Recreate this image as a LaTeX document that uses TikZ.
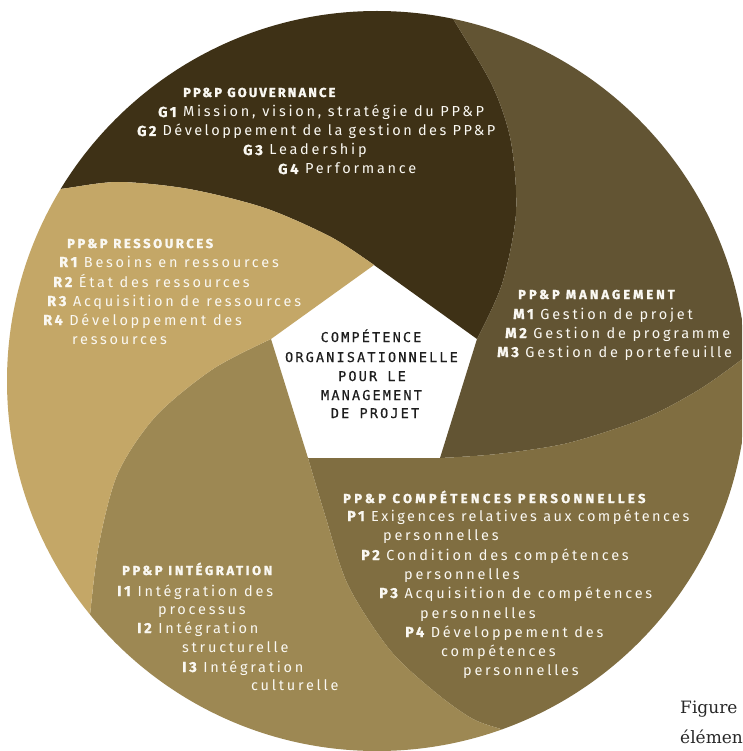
\documentclass[tikz,border=0pt]{standalone}
\usepackage{fontspec}
\setmainfont{Fira Sans}
\newfontfamily\wheelfont[LetterSpace=19,BoldFeatures={FakeBold=1.2}]{Fira Sans}
\newfontfamily\headfont[LetterSpace=20,BoldFeatures={FakeBold=1.4}]{Fira Sans}
\newfontfamily\corefont[LetterSpace=16,FakeBold=0.5]{DejaVu Sans Mono}
\newfontfamily\notefont{DejaVu Serif}
\newcommand\ikey[1]{{\bfseries #1}}

% segment colours of the wheel
\definecolor{gouv}{RGB}{62,49,22}
\definecolor{mgmt}{RGB}{98,84,51}
\definecolor{pers}{RGB}{128,110,65}
\definecolor{integ}{RGB}{157,136,83}
\definecolor{ress}{RGB}{196,167,103}
\definecolor{txtw}{RGB}{250,248,242}
\definecolor{coretxt}{RGB}{30,30,30}
\definecolor{notetxt}{RGB}{40,40,40}

\begin{document}
\begin{tikzpicture}[x=1pt,y=-1pt,
  item/.style={anchor=base west, inner sep=0pt, text=txtw,
    font=\wheelfont\fontsize{14.5}{16}\selectfont},
  head/.style={anchor=base west, inner sep=0pt, text=txtw,
    font=\headfont\bfseries\fontsize{13}{15}\selectfont},
  core/.style={anchor=base, inner sep=0pt, text=coretxt,
    font=\corefont\fontsize{13.5}{16}\selectfont},
  note/.style={anchor=base west, inner sep=0pt, text=notetxt,
    font=\notefont\fontsize{17}{20}\selectfont},
]
\useasboundingbox (0,0) rectangle (742,751);
\clip (0,0) rectangle (742,751);
\fill[white] (0,0) rectangle (742,751);

% corners of the central pentagon
\coordinate (pT)  at (374,265);
\coordinate (pR)  at (477,339);
\coordinate (pBR) at (440,458);
\coordinate (pBL) at (308,458);
\coordinate (pL)  at (271,339);

% the five swirl segments, cut by the outer circle
\begin{scope}
  \clip (377,381) circle [radius=370];
  % governance
  \fill[gouv] plot[smooth] coordinates {(pR) (502,284) (516,213) (511,142) (492,85) (452,17) (440,-5)}
    -- (440,-300) -- (-300,-300) -- (-300,194)
    -- plot[smooth] coordinates {(10,194) (60,189) (118,182) (189,189) (265,208) (331,237) (pT)} -- cycle;
  % management
  \fill[mgmt] plot[smooth] coordinates {(pBR) (497,454) (568,443) (645,418) (700,389) (748,355) (775,336)}
    -- (1100,336) -- (1100,-300) -- (440,-300)
    -- plot[smooth] coordinates {(440,-5) (452,17) (492,85) (511,142) (516,213) (502,284) (pR)} -- cycle;
  % personal competences
  \fill[pers] plot[smooth] coordinates {(pBL) (325,515) (348,585) (390,650) (435,692) (473,719) (507,731) (545,745)}
    -- (545,1100) -- (1100,1100) -- (1100,336)
    -- plot[smooth] coordinates {(775,336) (748,355) (700,389) (645,418) (568,443) (497,454) (pBR)} -- cycle;
  % integration
  \fill[integ] plot[smooth] coordinates {(pL) (213,369) (156,416) (118,473) (99,544) (90,615) (86,660)}
    -- (-300,660) -- (-300,1100) -- (545,1100)
    -- plot[smooth] coordinates {(545,745) (507,731) (473,719) (435,692) (390,650) (348,585) (325,515) (pBL)} -- cycle;
  % resources
  \fill[ress] plot[smooth] coordinates {(pT) (331,237) (265,208) (189,189) (118,182) (60,189) (10,194)}
    -- (-300,194) -- (-300,660)
    -- plot[smooth] coordinates {(86,660) (90,615) (99,544) (118,473) (156,416) (213,369) (pL)} -- cycle;
\end{scope}

% governance texts
\node[head] (gh) at (183,97) {\addfontfeature{LetterSpace=16}PP\&P GOUVERNANCE};
\node[item] (g1) at (158,117) {\ikey{G1} Mission, vision, stratégie du PP\&P};
\node[item] (g2) at (137,136) {\addfontfeature{LetterSpace=17}\ikey{G2} Développement de la gestion des PP\&P};
\node[item] (g3) at (243,155) {\ikey{G3} Leadership};
\node[item] (g4) at (278,174) {\ikey{G4} Performance};

% resources texts
\node[head] (rh) at (67,248) {PP\&P RESSOURCES};
\node[item] (r1) at (59,267) {\ikey{R1} Besoins en ressources};
\node[item] (r2) at (53,287) {\ikey{R2} État des ressources};
\node[item] (r3) at (47,306) {\ikey{R3} Acquisition de ressources};
\node[item] (r4) at (43,325) {\ikey{R4} Développement des};
\node[item] (r4b) at (72,344) {ressources};

% management texts
\node[head] (mh) at (518,299) {\addfontfeature{LetterSpace=23}PP\&P MANAGEMENT};
\node[item] (m1) at (513,319) {\ikey{M1} Gestion de projet};
\node[item] (m2) at (505,338) {\ikey{M2} Gestion de programme};
\node[item] (m3) at (497,357) {\ikey{M3} Gestion de portefeuille};

% personal competences texts
\node[head] (ph) at (343,503) {\addfontfeature{LetterSpace=26}PP\&P COMPÉTENCES PERSONNELLES};
\node[item] (p1) at (347,521) {\addfontfeature{LetterSpace=17}\ikey{P1} Exigences relatives aux compétences};
\node[item] (p1b) at (383,540) {personnelles};
\node[item] (p2) at (361,560) {\ikey{P2} Condition des compétences};
\node[item] (p2b) at (404,579) {personnelles};
\node[item] (p3) at (379,598) {\ikey{P3} Acquisition de compétences};
\node[item] (p3b) at (420,618) {personnelles};
\node[item] (p4) at (405,637) {\ikey{P4} Développement des};
\node[item] (p4b) at (441,656) {compétences};
\node[item] (p4c) at (463,675) {personnelles};

% integration texts
\node[head] (ih) at (122,575) {PP\&P INTÉGRATION};
\node[item] (i1) at (117,596) {\ikey{I1} Intégration des};
\node[item] (i1b) at (158,614) {processus};
\node[item] (i2) at (137,633) {\ikey{I2} Intégration};
\node[item] (i2b) at (182,652) {structurelle};
\node[item] (i3) at (182,672) {\ikey{I3} Intégration};
\node[item] (i3b) at (251,690) {culturelle};

% centre of the wheel
\node[core] (c1) at (371,342) {COMPÉTENCE};
\node[core] (c2) at (371.5,362) {ORGANISATIONNELLE};
\node[core] (c3) at (372,381) {POUR LE};
\node[core] (c4) at (371.5,400) {MANAGEMENT};
\node[core] (c5) at (375,418) {DE PROJET};

% caption running in from the right
\node[note] (fig) at (680,713) {Figure};
\node[note] (elem) at (680,743) {élémen};
\end{tikzpicture}
\end{document}
